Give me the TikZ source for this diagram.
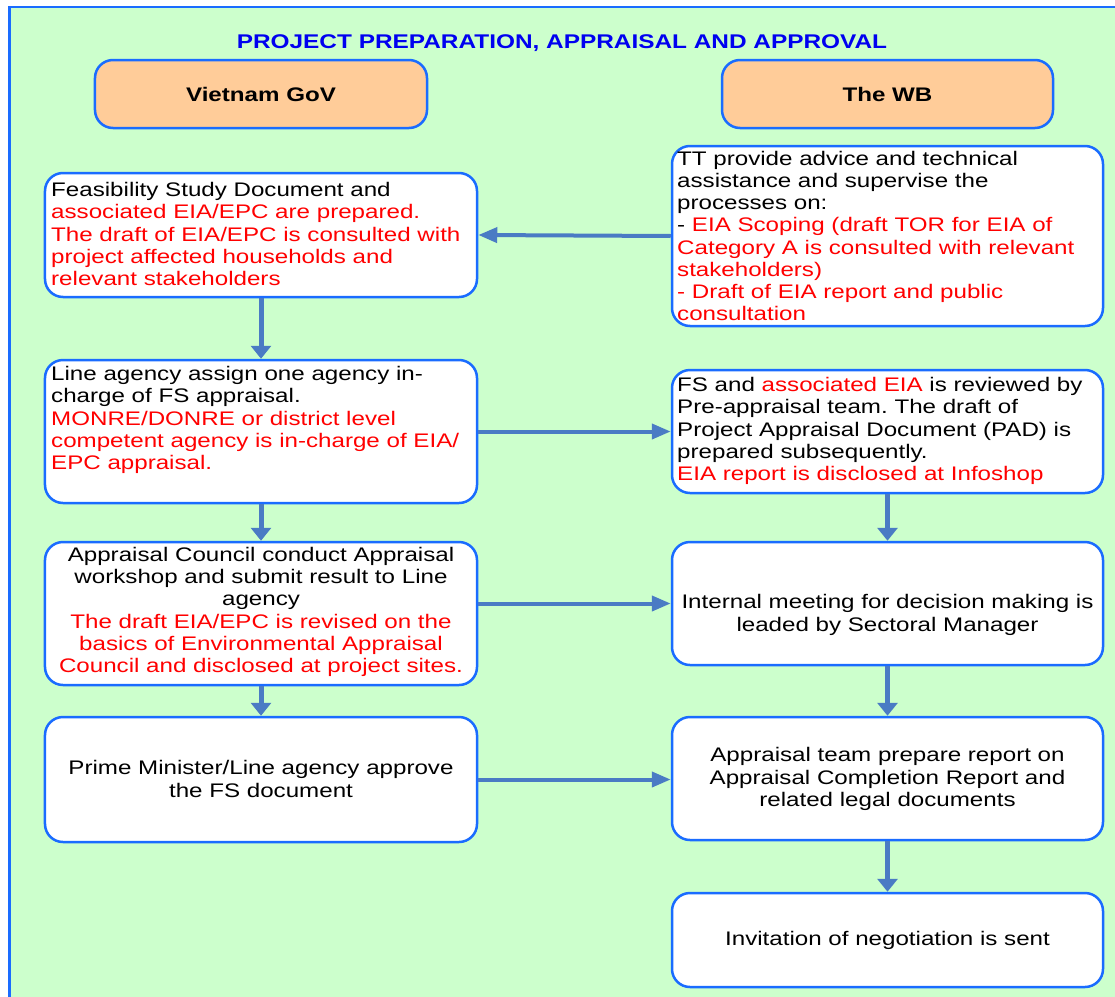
\documentclass[tikz,border=0pt]{standalone}
\usepackage{fontspec}
\setmainfont{Liberation Sans}[FakeStretch=1.23]
\usetikzlibrary{arrows.meta}
\definecolor{bg}{RGB}{204,255,204}
\definecolor{frameblue}{RGB}{26,108,255}
\definecolor{hdr}{RGB}{255,204,153}
\definecolor{arr}{RGB}{74,123,196}
\definecolor{ttl}{RGB}{0,0,240}
\newcommand{\redt}[1]{\textcolor{red}{#1}}
\frenchspacing
\begin{document}
\begin{tikzpicture}[x=1bp,y=-1bp,
  font=\fontsize{19.7}{22.3}\selectfont\frenchspacing,
  box/.style={draw=frameblue, line width=2.5bp, rounded corners=18bp, fill=white, inner sep=0pt},
  hdrbox/.style={box, fill=hdr},
  txt/.style={inner sep=0pt},
  harrow/.style={draw=arr, line width=4bp, -{Triangle[length=19bp,width=15bp]}},
  varrow/.style={draw=arr, line width=5bp, -{Triangle[length=13bp,width=20bp]}}]
\useasboundingbox (0,0) rectangle (1115,997);
\fill[bg] (9,7) rectangle (1125,1005);
\draw[frameblue, line width=2.5bp] (9.3,1005) -- (9.3,7) -- (1125,7);

\node[txt, anchor=base, text=ttl, font=\fontsize{19.9}{22.3}\selectfont\bfseries] (title) at (562,48) {PROJECT PREPARATION, APPRAISAL AND APPROVAL};

\node[hdrbox, minimum width=332bp, minimum height=68bp] (gov) at (261,94) {};
\node[txt, anchor=base, font=\fontsize{19.7}{22.3}\selectfont\bfseries] (govt) at (261,101) {Vietnam GoV};
\node[hdrbox, minimum width=331bp, minimum height=68bp] (wb) at (887.5,94) {};
\node[txt, anchor=base, font=\fontsize{19.7}{22.3}\selectfont\bfseries] (wbt) at (887.5,101) {The WB};

% left column
\node[box, minimum width=432bp, minimum height=124bp] (L1) at (261,235) {};
\node[box, minimum width=432bp, minimum height=143bp] (L2) at (261,431.5) {};
\node[box, minimum width=432bp, minimum height=143bp] (L3) at (261,613.5) {};
\node[box, minimum width=432bp, minimum height=125bp] (L4) at (261,779.5) {};
% right column
\node[box, minimum width=431bp, minimum height=180bp] (R1) at (887.5,236) {};
\node[box, minimum width=431bp, minimum height=123bp] (R2) at (887.5,431.5) {};
\node[box, minimum width=431bp, minimum height=123bp] (R3) at (887.5,603.5) {};
\node[box, minimum width=431bp, minimum height=123bp] (R4) at (887.5,778.5) {};
\node[box, minimum width=431bp, minimum height=94bp] (R5) at (887.5,940) {};

% texts
\node[txt, anchor=west, align=left] (L1t) at (51,234) {Feasibility Study Document and\\
\redt{associated EIA/EPC are prepared.}\\
\redt{The draft of EIA/EPC is consulted with}\\
\redt{project affected households and}\\
\redt{relevant stakeholders}};
\node[txt, anchor=west, align=left] (L2t) at (51,420) {Line agency assign one agency in-\\
charge of FS appraisal.\\
\redt{MONRE/DONRE or district level}\\
\redt{competent agency is in-charge of EIA/}\\
\redt{EPC appraisal.}};
\node[txt, align=center] (L3t) at (261,612) {Appraisal Council conduct Appraisal\\
workshop and submit result to Line\\
agency\\
\redt{The draft EIA/EPC is revised on the}\\
\redt{basics of Environmental Appraisal}\\
\redt{Council and disclosed at project sites.}};
\node[txt, align=center] (L4t) at (261,779) {Prime Minister/Line agency approve\\
the FS document};

\node[txt, anchor=west, align=left] (R1t) at (677,236) {TT provide advice and technical\\
assistance and supervise the\\
processes on:\\
- \redt{EIA Scoping (draft TOR for EIA of}\\
\redt{Category A is consulted with relevant}\\
\redt{stakeholders)}\\
\redt{- Draft of EIA report and public}\\
\redt{consultation}};
\node[txt, anchor=west, align=left] (R2t) at (677,431) {FS and \redt{associated EIA} is reviewed by\\
Pre-appraisal team. The draft of\\
Project Appraisal Document (PAD) is\\
prepared subsequently.\\
\redt{EIA report is disclosed at Infoshop}};
\node[txt, align=center] (R3t) at (887.5,615) {Internal meeting for decision making is\\
leaded by Sectoral Manager};
\node[txt, align=center] (R4t) at (887.5,779) {Appraisal team prepare report on\\
Appraisal Completion Report and\\
related legal documents};
\node[txt, align=center] (R5t) at (887.5,940) {Invitation of negotiation is sent};

% arrows
\draw[harrow] (R1.west) -- (L1.east);
\draw[harrow] (L2.east) -- (R2.west);
\draw[harrow] (L3.east |- R3.west) -- (R3.west);
\draw[harrow] (L4.east) -- (L4.east -| R4.west);
\draw[varrow] (L1.south) -- (L2.north);
\draw[varrow] (L2.south) -- (L3.north);
\draw[varrow] (L3.south) -- (L4.north);
\draw[varrow] (R2.south) -- (R3.north);
\draw[varrow] (R3.south) -- (R4.north);
\draw[varrow] (R4.south) -- (R5.north);
\end{tikzpicture}
\end{document}
